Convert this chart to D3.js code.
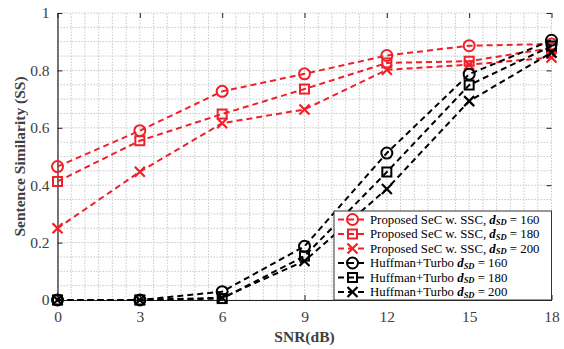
<!DOCTYPE html>
<html>
<head>
<meta charset="utf-8">
<script src="https://cdn.jsdelivr.net/npm/d3@7"></script>
<style>
  body { margin: 0; background: #fff; }
</style>
</head>
<body>
<div id="chart"></div>
<script>
// chart data
const snr = [0, 3, 6, 9, 12, 15, 18];
const secSSC160 = [0.465, 0.59, 0.727, 0.788, 0.852, 0.886, 0.892];
const secSSC180 = [0.413, 0.555, 0.648, 0.735, 0.826, 0.832, 0.878];
const secSSC200 = [0.25, 0.447, 0.616, 0.664, 0.802, 0.82, 0.845];
const huff160 = [0, 0, 0.029, 0.187, 0.512, 0.787, 0.905];
const huff180 = [0, 0, 0.005, 0.153, 0.446, 0.749, 0.885];
const huff200 = [0, 0, 0.008, 0.136, 0.387, 0.693, 0.862];
const xTicks = [0, 3, 6, 9, 12, 15, 18];
const yTicks = [0, 0.2, 0.4, 0.6, 0.8, 1];

const series = [
  {name: "Proposed SeC w. SSC, ", d: "160", values: secSSC160, color: "#f0202a", marker: "circle"},
  {name: "Proposed SeC w. SSC, ", d: "180", values: secSSC180, color: "#f0202a", marker: "square"},
  {name: "Proposed SeC w. SSC, ", d: "200", values: secSSC200, color: "#f0202a", marker: "cross"},
  {name: "Huffman+Turbo ", d: "160", values: huff160, color: "#000000", marker: "circle"},
  {name: "Huffman+Turbo ", d: "180", values: huff180, color: "#000000", marker: "square"},
  {name: "Huffman+Turbo ", d: "200", values: huff200, color: "#000000", marker: "cross"}
];

const serif = "'Liberation Serif', 'Times New Roman', serif";
const width = 564;
const height = 349;
const margin = {left: 57.5, right: 12.5, top: 13, bottom: 49};

const svg = d3.select("#chart").append("svg")
  .attr("width", width)
  .attr("height", height)
  .style("font-family", serif);

const x = d3.scaleLinear().domain([0, 18]).range([margin.left, width - margin.right]);
const y = d3.scaleLinear().domain([0, 1]).range([height - margin.bottom, margin.top]);

// dotted grid (every 0.5 on x, 0.05 on y)
const grid = svg.append("g");
grid.selectAll(".gx").data(d3.range(0, 18.01, 0.5)).enter().append("line")
  .attr("x1", d => x(d)).attr("x2", d => x(d))
  .attr("y1", y(0)).attr("y2", y(1))
  .attr("stroke", "#c8c8c8").attr("stroke-width", 1).attr("stroke-dasharray", "1.5,1.5");
grid.selectAll(".gy").data(d3.range(0, 1.001, 0.05)).enter().append("line")
  .attr("x1", x(0)).attr("x2", x(18))
  .attr("y1", d => y(d)).attr("y2", d => y(d))
  .attr("stroke", "#c8c8c8").attr("stroke-width", 1).attr("stroke-dasharray", "1.5,1.5");

// axes with inward ticks
const axB = svg.append("g").attr("transform", `translate(0,${y(0)})`)
  .call(d3.axisBottom(x).tickValues(xTicks).tickSizeInner(-5).tickSizeOuter(0).tickPadding(11));
const axL = svg.append("g").attr("transform", `translate(${x(0)},0)`)
  .call(d3.axisLeft(y).tickValues(yTicks).tickFormat(d3.format("")).tickSizeInner(-5).tickSizeOuter(0).tickPadding(8));
const axT = svg.append("g").attr("transform", `translate(0,${y(1)})`)
  .call(d3.axisTop(x).tickValues(xTicks).tickSizeInner(-5).tickSizeOuter(0).tickFormat(""));
const axR = svg.append("g").attr("transform", `translate(${x(18)},0)`)
  .call(d3.axisRight(y).tickValues(yTicks).tickSizeInner(-5).tickSizeOuter(0).tickFormat(""));
axT.select(".domain").remove();
axR.select(".domain").remove();
[axB, axL, axT, axR].forEach(a => {
  a.attr("font-family", null);
  a.selectAll("text").style("font-family", serif).attr("font-size", 15.5).attr("fill", "#404040");
  a.selectAll(".tick line").attr("stroke", "#222");
  a.select(".domain").attr("stroke", "#222").attr("stroke-width", 1.2);
});

// axis titles
svg.append("text")
  .attr("x", (x(0) + x(18)) / 2).attr("y", 342)
  .attr("text-anchor", "middle").attr("font-weight", "bold").attr("font-size", 15.5)
  .style("font-family", serif)
  .attr("fill", "#404040").text("SNR(dB)");
svg.append("text")
  .attr("transform", `translate(25,${(y(0) + y(1)) / 2}) rotate(-90)`)
  .attr("text-anchor", "middle").attr("font-weight", "bold").attr("font-size", 15.5)
  .style("font-family", serif)
  .attr("fill", "#404040").text("Sentence Similarity (SS)");

// marker drawing
function drawMarker(g, type, cx, cy, color) {
  if (type === "circle") {
    g.append("circle").attr("cx", cx).attr("cy", cy).attr("r", 5.5)
      .attr("fill", "none").attr("stroke", color).attr("stroke-width", 2);
  } else if (type === "square") {
    g.append("rect").attr("x", cx - 4.5).attr("y", cy - 4.5).attr("width", 9).attr("height", 9)
      .attr("fill", "none").attr("stroke", color).attr("stroke-width", 2);
  } else {
    g.append("path").attr("d", `M${cx - 5},${cy - 5}L${cx + 5},${cy + 5}M${cx - 5},${cy + 5}L${cx + 5},${cy - 5}`)
      .attr("fill", "none").attr("stroke", color).attr("stroke-width", 2.2);
  }
}

const line = d3.line().x((d, i) => x(snr[i])).y(d => y(d));
const plot = svg.append("g");
series.forEach(s => {
  plot.append("path").datum(s.values)
    .attr("d", line)
    .attr("fill", "none").attr("stroke", s.color).attr("stroke-width", 2)
    .attr("stroke-dasharray", "6,4");
  const mg = plot.append("g");
  s.values.forEach((v, i) => drawMarker(mg, s.marker, x(snr[i]), y(v), s.color));
});

// legend
const lg = svg.append("g");
const lgX = 334, lgY = 211;
lg.append("rect").attr("x", lgX).attr("y", lgY)
  .attr("width", x(18) - lgX).attr("height", y(0) - lgY)
  .attr("fill", "#fff").attr("stroke", "#333").attr("stroke-width", 1);
series.forEach((s, i) => {
  const ry = lgY + 8.5 + i * 14.5;
  lg.append("line").attr("x1", lgX + 3).attr("x2", lgX + 34)
    .attr("y1", ry).attr("y2", ry)
    .attr("stroke", s.color).attr("stroke-width", 2).attr("stroke-dasharray", "6,4")
    .attr("stroke-dashoffset", -1);
  drawMarker(lg, s.marker, lgX + 18.5, ry, s.color);
  const t = lg.append("text").attr("x", lgX + 36).attr("y", ry + 4)
    .style("font-family", serif)
    .attr("font-size", 12.8).attr("fill", "#000");
  t.append("tspan").text(s.name);
  t.append("tspan").attr("font-style", "italic").attr("font-weight", "bold").text("d");
  t.append("tspan").attr("font-style", "italic").attr("font-weight", "bold")
    .attr("font-size", 8.5).attr("dy", 1.5).text("SD");
  t.append("tspan").attr("dy", -1.5).text(" = " + s.d);
});
</script>
</body>
</html>
